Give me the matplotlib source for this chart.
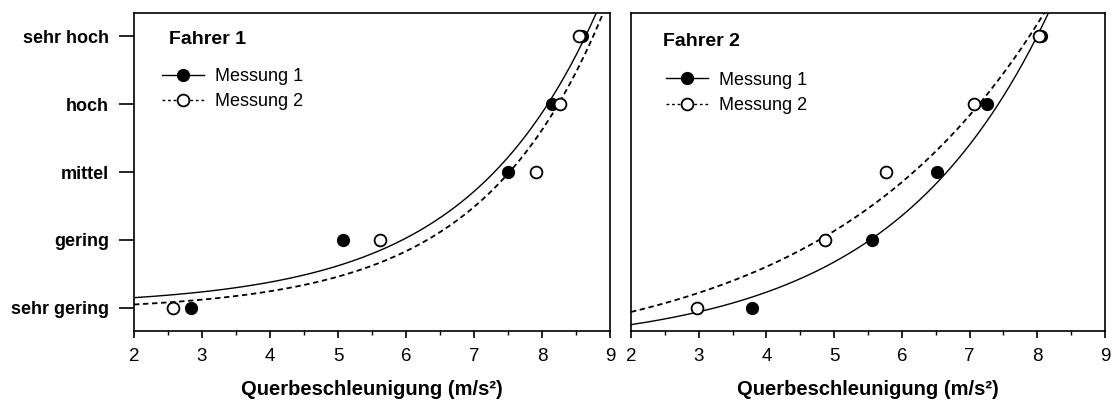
import numpy as np
import matplotlib.pyplot as plt
from matplotlib.ticker import MultipleLocator

plt.rcParams['font.family'] = ['Liberation Sans', 'DejaVu Sans']

## Kategorien
stufen = ['sehr gering', 'gering', 'mittel', 'hoch', 'sehr hoch']
stufe_nr = [1, 2, 3, 4, 5]

## Fahrer 1 (Querbeschleunigung in m/s^2 je Stufe)
f1_m1 = [2.84, 5.07, 7.50, 8.14, 8.59]
f1_m2 = [2.58, 5.61, 7.91, 8.27, 8.55]
## Fahrer 2
f2_m1 = [3.79, 5.56, 6.52, 7.26, 8.05]
f2_m2 = [2.98, 4.87, 5.77, 7.07, 8.03]

## Parameter der Regressionskurven y = y0 + a*exp(b*x), aus dem Bild geschaetzt
f1_fit1 = (1.026, 0.0437, 0.522)
f1_fit2 = (0.954, 0.0317, 0.554)
f2_fit1 = (0.40, 0.150, 0.428)
f2_fit2 = (0.175, 0.409, 0.313)


def model(x, y0, a, b):
    return y0 + a * np.exp(b * x)


fig = plt.figure(figsize=(11.12, 4.03), dpi=100)
ax1 = fig.add_axes([0.1205, 0.1787, 0.4281, 0.789])
ax2 = fig.add_axes([0.5674, 0.1787, 0.4263, 0.789])

panels = [
    (ax1, 'Fahrer 1', f1_m1, f1_m2, f1_fit1, f1_fit2, (0.0735, 0.918), (0.044, 0.850)),
    (ax2, 'Fahrer 2', f2_m1, f2_m2, f2_fit1, f2_fit2, (0.0675, 0.909), (0.059, 0.838)),
]

for ax, titel, m1, m2, p1, p2, tpos, lpos in panels:
    xx = np.linspace(2, 9, 300)
    ax.plot(xx, model(xx, *p1), color='black', lw=1.0)
    ax.plot(xx, model(xx, *p2), color='black', lw=1.3, dashes=(3, 2))
    ax.plot(m1, stufe_nr, 'o', color='black', ms=8.5, mec='black')
    ax.plot(m2, stufe_nr, 'o', mfc='white', mec='black', ms=8.5, mew=1.3)

    # Legende mit Proxy-Linien
    h1, = ax.plot([], [], '-o', color='black', ms=8.5, lw=1.0)
    h2, = ax.plot([], [], 'o', mfc='white', mec='black', color='black',
                  ms=8.5, mew=1.3, ls=(0, (2, 2)), lw=1.0)
    ax.legend([h1, h2], ['Messung 1', 'Messung 2'], loc='upper left',
              bbox_to_anchor=lpos, frameon=False, fontsize=13,
              handlelength=2.3, handletextpad=0.65, labelspacing=0.45,
              borderaxespad=0)
    ax.text(tpos[0], tpos[1], titel, transform=ax.transAxes, fontsize=14,
            fontweight='bold', va='center')

    ax.set_xlim(2, 9)
    ax.set_ylim(0.66, 5.34)
    ax.xaxis.set_major_locator(MultipleLocator(1))
    ax.xaxis.set_minor_locator(MultipleLocator(0.5))
    ax.tick_params(axis='x', which='major', length=5, width=1.2,
                   labelsize=13.5, pad=7)
    ax.tick_params(axis='x', which='minor', length=3, width=1.0)
    ax.set_xlabel('Querbeschleunigung (m/s²)', fontsize=14.5,
                  fontweight='bold', labelpad=11)
    for s in ax.spines.values():
        s.set_linewidth(1.2)

ax1.set_yticks(stufe_nr)
ax1.set_yticklabels(stufen, fontsize=13, fontweight='bold')
ax1.tick_params(axis='y', length=11, width=1.2, pad=7)
ax2.set_yticks([])

fig.savefig('out.png', dpi=100)
